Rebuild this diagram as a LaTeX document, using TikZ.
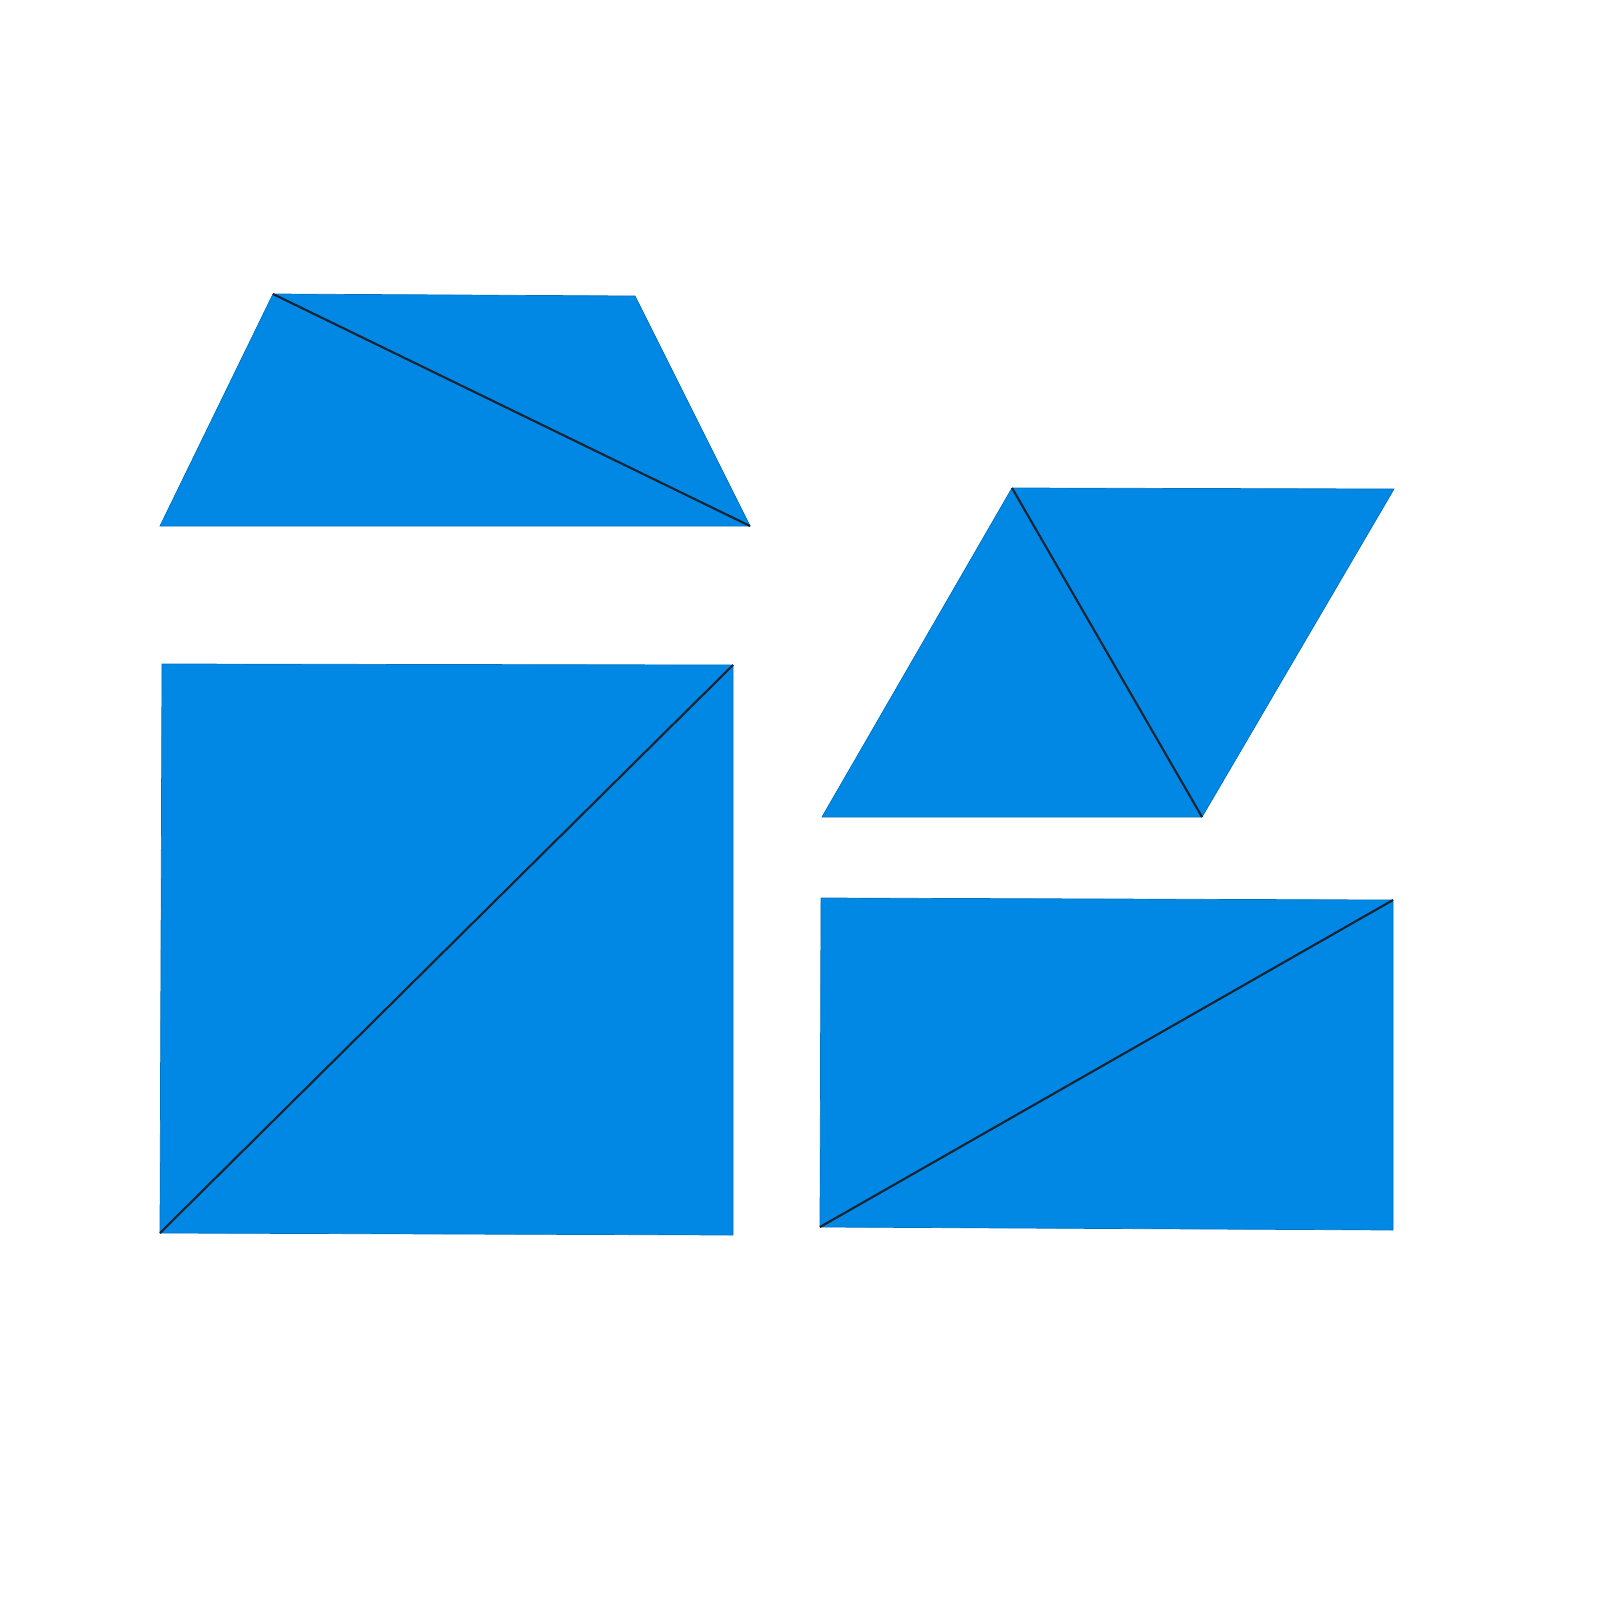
\documentclass[tikz,border=0pt]{standalone}
\usepackage{tikz}
\usetikzlibrary{calc}
\definecolor{piece}{RGB}{0,136,228}
\definecolor{seam}{RGB}{25,35,50}

\begin{document}
\begin{tikzpicture}[x=0.01cm,y=-0.01cm,
		tile/.style={fill=piece,draw=piece!85!black,line width=0.2pt},
		cut/.style={draw=seam,line width=0.6pt}]
		\useasboundingbox (0,0) rectangle (1600,1600);
		% trapezoid
		\coordinate (t1) at (273,294);
		\coordinate (t2) at (635,296);
		\coordinate (t3) at (750,526);
		\coordinate (t4) at (160,526);
		\fill [tile] (t1) -- (t2) -- (t3) -- (t4) -- cycle;
		\draw [cut] (t1) to (t3);
		
		% rhombus
		\coordinate (r1) at (1012,488);
		\coordinate (r2) at (1394,489);
		\coordinate (r3) at (1202,817);
		\coordinate (r4) at (822,817);
		\fill [tile] (r1) -- (r2) -- (r3) -- (r4) -- cycle;
		\draw [cut] (r1) to (r3);
		
		% square
		\coordinate (s1) at (162,664);
		\coordinate (s2) at (733,665);
		\coordinate (s3) at (733,1235);
		\coordinate (s4) at (160,1233);
		\fill [tile] (s1) -- (s2) -- (s3) -- (s4) -- cycle;
		\draw [cut] (s4) to (s2);
		
		% rectangle
		\coordinate (b1) at (821,898);
		\coordinate (b2) at (1393,900);
		\coordinate (b3) at (1393,1230);
		\coordinate (b4) at (820,1227);
		\fill [tile] (b1) -- (b2) -- (b3) -- (b4) -- cycle;
		\draw [cut] (b4) to (b2);
\end{tikzpicture}
\end{document}
